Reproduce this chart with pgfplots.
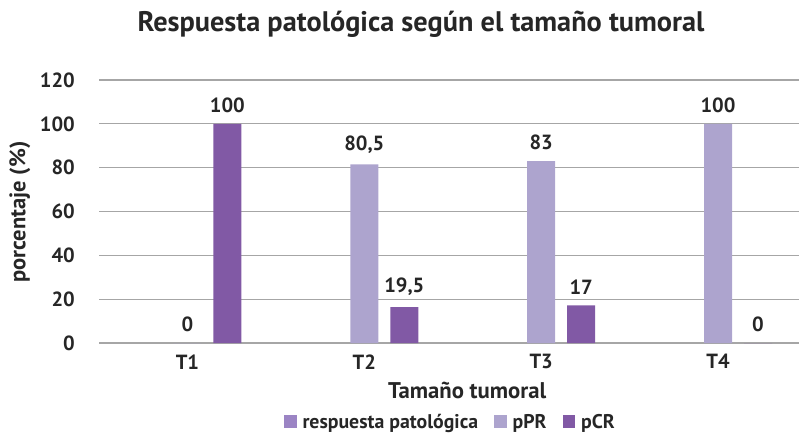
\documentclass[border=0pt]{standalone}
\usepackage{fontspec}
\setmainfont{PT Sans}
\usepackage{pgfplots}
\pgfplotsset{compat=1.18}
\definecolor{ppr}{HTML}{ADA4CE}
\definecolor{pcr}{HTML}{8159A5}
\definecolor{resp}{HTML}{9B84C4}
\definecolor{txt}{HTML}{262626}
\definecolor{gridc}{HTML}{A6A6A6}

\pgfplotsset{
  sq legend/.style={legend image code/.code={\path[##1,draw=none] (0pt,-6pt) rectangle (12.5pt,6.5pt);}},
}

\begin{document}
\begin{tikzpicture}[x=1pt,y=1pt]
\useasboundingbox (0,0) rectangle (799,434);
\begin{axis}[
  at={(99pt,91pt)}, anchor=south west,
  scale only axis, width=700pt, height=263pt,
  ybar, bar width=28pt,
  xmin=-0.5, xmax=3.458, ymin=0, ymax=120,
  xtick={0,1,2,3}, xticklabels={T1,T2,T3,T4},
  ytick={0,20,...,120},
  axis line style={draw=none},
  tick style={draw=none},
  ymajorgrids, grid style={gridc, line width=1.3pt},
  /pgf/number format/assume math mode=true,
  tick label style={font=\bfseries\fontsize{20.5}{24}\selectfont, text=txt},
  yticklabel style={inner sep=2pt, xshift=-22pt},
  xticklabel style={inner sep=2pt, yshift=-5pt},
  title={Respuesta patológica según el tamaño tumoral},
  title style={font=\bfseries\fontsize{28.3}{33}\selectfont, text=txt,
    at={(axis description cs:0.46,1.19)}, anchor=center},
  xlabel={Tamaño tumoral},
  xlabel style={font=\bfseries\fontsize{22.7}{26}\selectfont, text=txt,
    at={(axis description cs:0.526,-0.18)}, anchor=center},
  ylabel={porcentaje (\%)},
  ylabel style={font=\bfseries\fontsize{22.5}{26}\selectfont, text=txt,
    at={(axis description cs:-0.113,0.498)}, anchor=center, rotate=0},
  nodes near coords, point meta=explicit symbolic,
  every node near coord/.append style={font=\bfseries\fontsize{20.5}{24}\selectfont,
    text=txt, inner sep=2pt, yshift=9pt},
  legend columns=3,
  legend style={draw=none, fill=none, at={(0.502,-0.30)}, anchor=center,
    font=\bfseries\fontsize{19.8}{23}\selectfont, text=txt,
    /tikz/every odd column/.append style={column sep=4pt},
    /tikz/every even column/.append style={column sep=14pt}},
  clip=false,
]
\addlegendimage{sq legend, fill=resp}
\addlegendentry{respuesta patológica}
\addplot[sq legend, fill=ppr, draw=none, bar shift=0pt] coordinates {
  (0,0) [0]
  (1,81.5) [80,5]
  (2,83) [83]
  (3,100) [100]
};
\addlegendentry{pPR}
\addplot[sq legend, fill=pcr, draw=none, bar shift=40pt] coordinates {
  (0,100) [100]
  (1,16.4) [19,5]
  (2,17.2) [17]
  (3,0) [0]
};
\addlegendentry{pCR}
\end{axis}
\end{tikzpicture}
\end{document}
